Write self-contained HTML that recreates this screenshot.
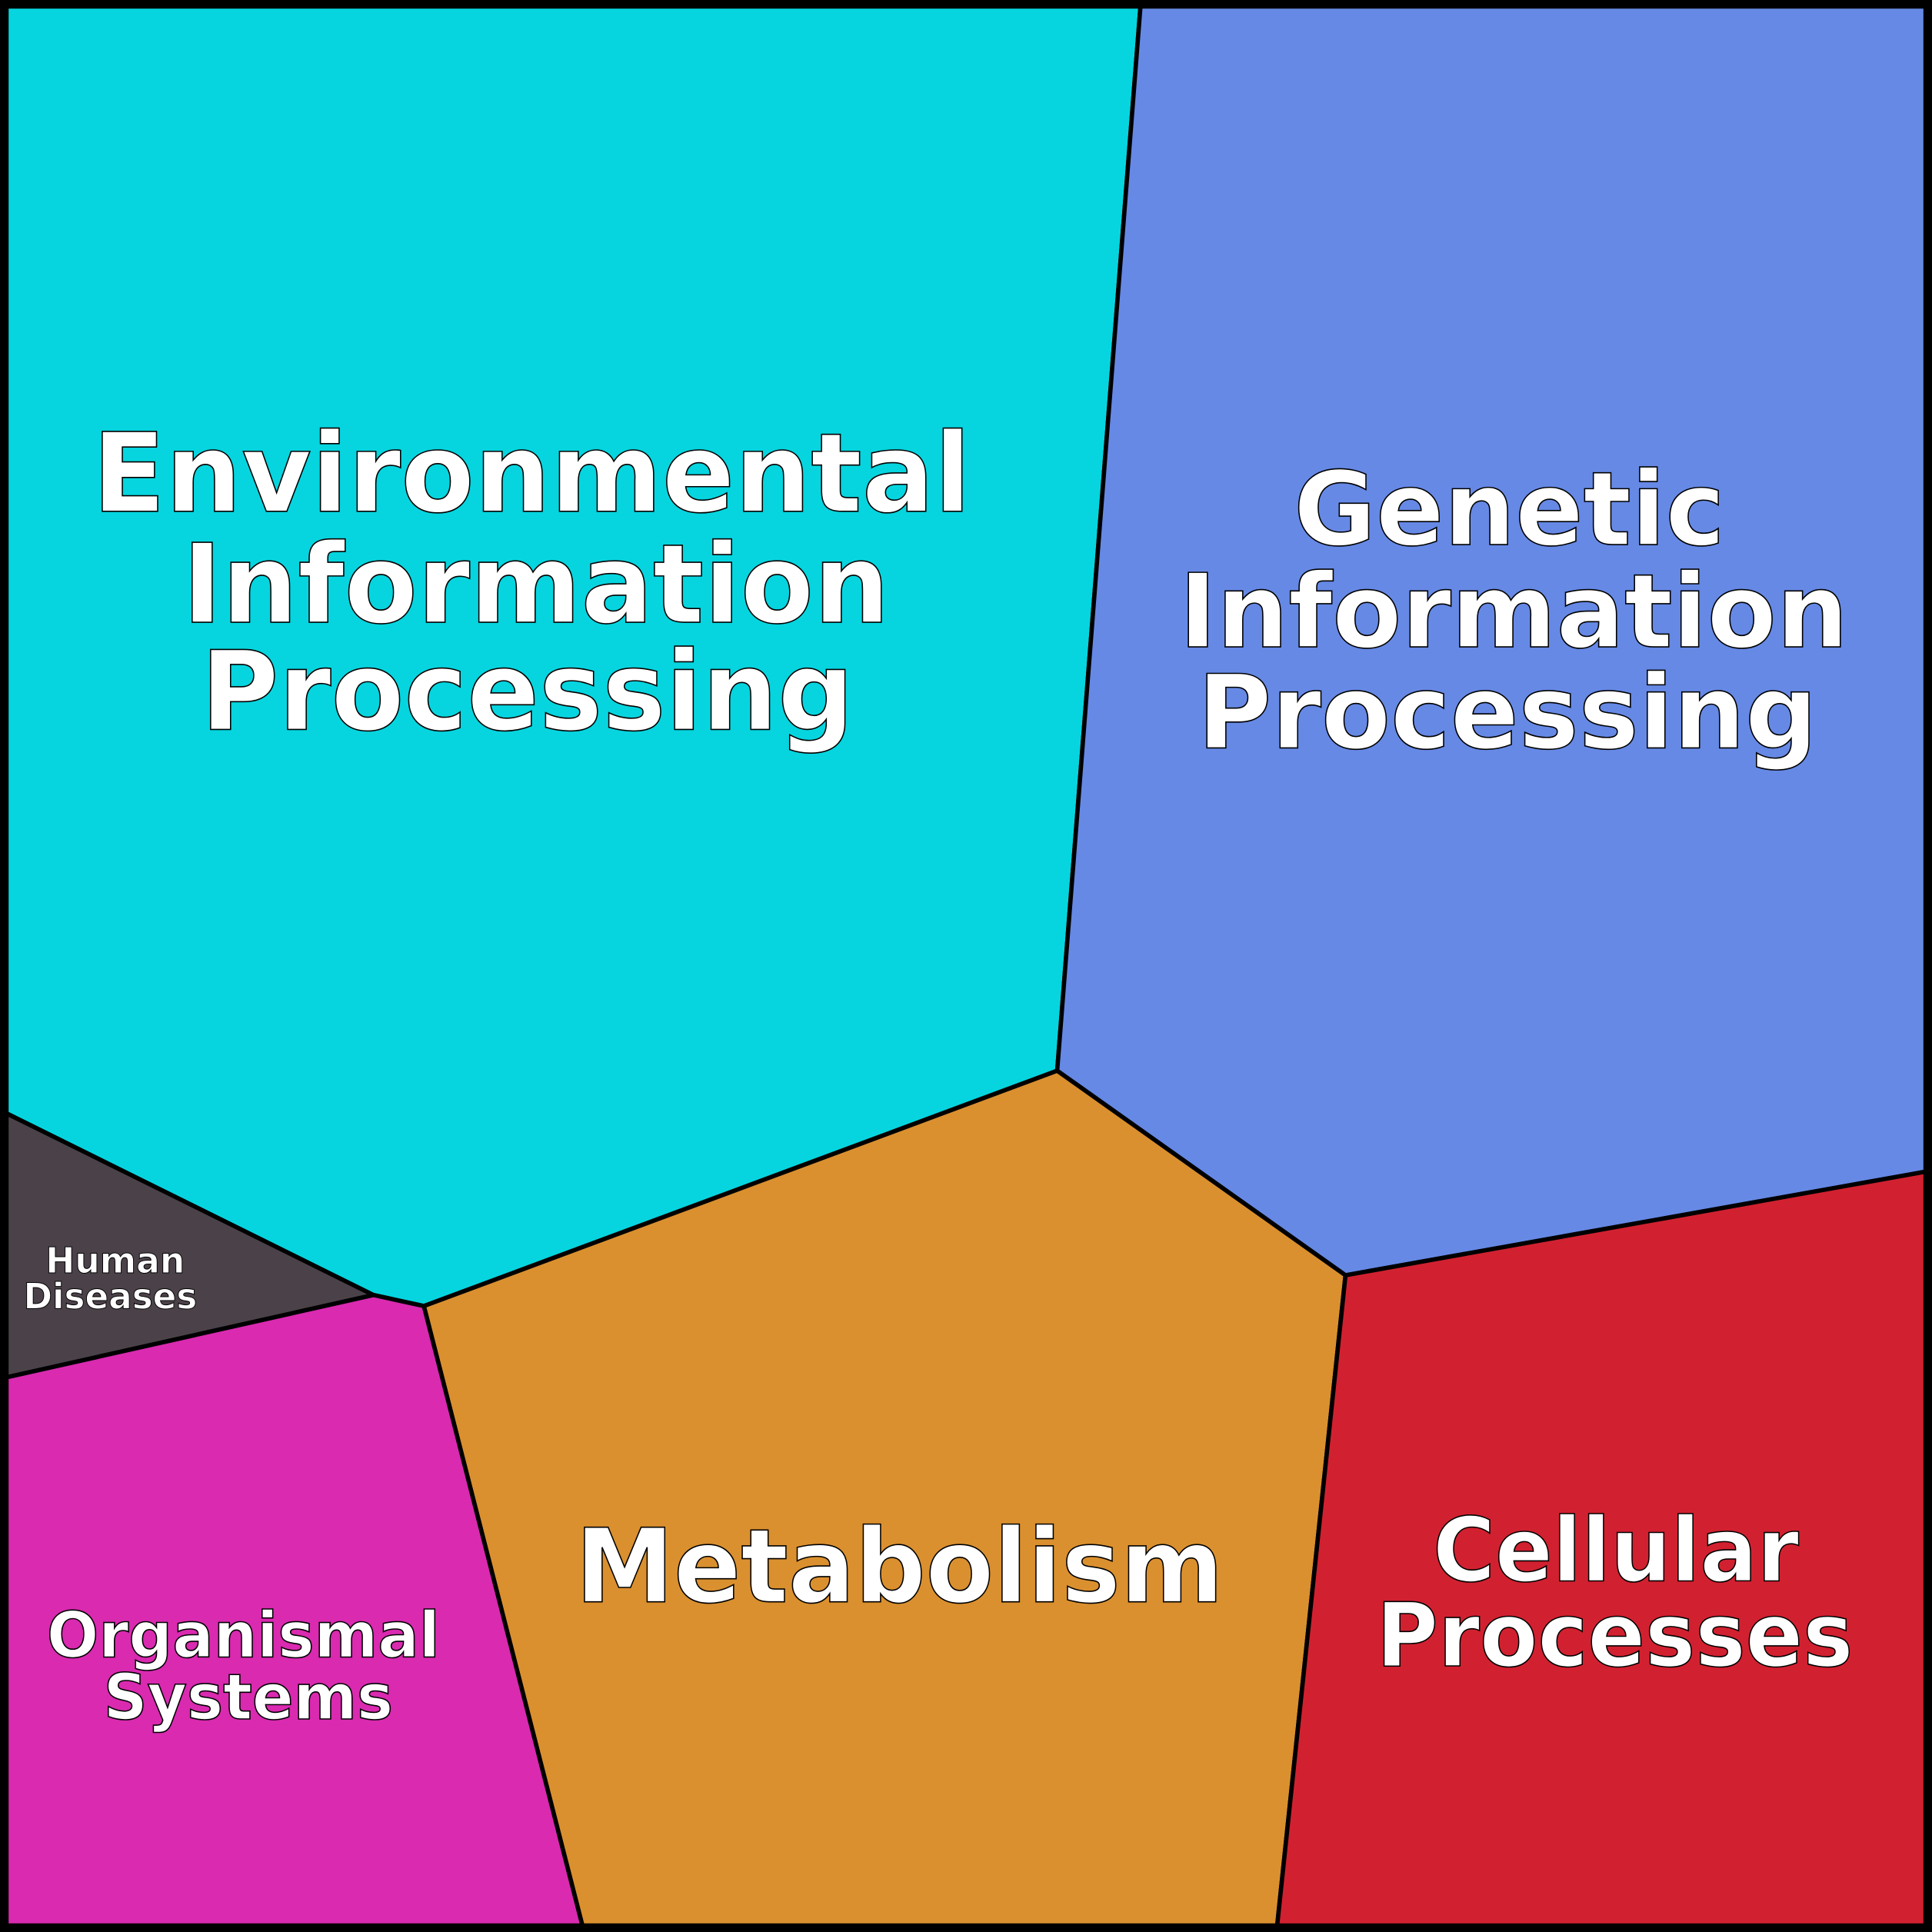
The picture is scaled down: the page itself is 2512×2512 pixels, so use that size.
<!DOCTYPE html>
<html><head><style>html,body{margin:0;padding:0;background:#fff}svg{display:block}</style></head>
<body>
<svg width="2512" height="2512" viewBox="0 0 1568 1568" xmlns="http://www.w3.org/2000/svg">
<g stroke="#000" stroke-width="3.5" stroke-linejoin="round">
<polygon points="0,0 926,0 858,869 344,1060 303,1051 0,901" fill="#06D5DF"/>
<polygon points="926,0 1568,0 1568,950 1092,1035 858,869" fill="#6689E5"/>
<polygon points="858,869 1092,1035 1036,1568 474,1568 344,1060" fill="#DA902F"/>
<polygon points="1092,1035 1568,950 1568,1568 1036,1568" fill="#D12130"/>
<polygon points="0,1119 303,1051 344,1060 474,1568 0,1568" fill="#D92AB0"/>
<polygon points="0,901 303,1051 0,1119" fill="#4B4249"/>
</g>
<rect x="3.5" y="3.5" width="1561" height="1561" fill="none" stroke="#000" stroke-width="7"/>
<g font-family="'DejaVu Sans','Liberation Sans',sans-serif" font-weight="bold" fill="#fff" stroke="#000" stroke-width="1" text-anchor="start" lengthAdjust="spacingAndGlyphs">
<text x="75" y="415" font-size="89" textLength="713" lengthAdjust="spacingAndGlyphs">Environmental</text>
<text x="148" y="505" font-size="89" textLength="574" lengthAdjust="spacingAndGlyphs">Information</text>
<text x="163" y="592" font-size="89" textLength="530" lengthAdjust="spacingAndGlyphs">Processing</text>
<text x="1050" y="442" font-size="83" textLength="350" lengthAdjust="spacingAndGlyphs">Genetic</text>
<text x="957" y="525" font-size="83" textLength="543" lengthAdjust="spacingAndGlyphs">Information</text>
<text x="972" y="607" font-size="83" textLength="503" lengthAdjust="spacingAndGlyphs">Processing</text>
<text x="467" y="1300" font-size="83" textLength="526" lengthAdjust="spacingAndGlyphs">Metabolism</text>
<text x="1163" y="1283" font-size="72" textLength="297" lengthAdjust="spacingAndGlyphs">Cellular</text>
<text x="1117" y="1352" font-size="72" textLength="387" lengthAdjust="spacingAndGlyphs">Processes</text>
<text x="38" y="1345" font-size="51" textLength="319" lengthAdjust="spacingAndGlyphs">Organismal</text>
<text x="84" y="1395" font-size="51" textLength="235" lengthAdjust="spacingAndGlyphs">Systems</text>
<text x="37" y="1033" font-size="29" stroke-width="0.6" textLength="113" lengthAdjust="spacingAndGlyphs">Human</text>
<text x="19" y="1062" font-size="29" stroke-width="0.6" textLength="141" lengthAdjust="spacingAndGlyphs">Diseases</text>
</g>
</svg>
</body></html>
